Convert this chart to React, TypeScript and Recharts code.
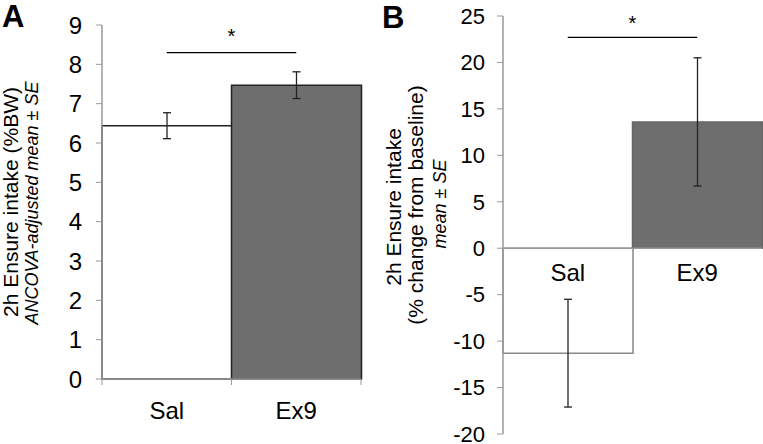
import React from 'react';
import {
  BarChart, Bar, Cell, XAxis, YAxis, ErrorBar, ReferenceLine, ReferenceDot,
} from 'recharts';

// Panel A: ANCOVA-adjusted intake (%BW)
const groups = ['Sal', 'Ex9'];
const intakeMeans = [6.44, 7.47];
const intakeSE = [0.33, 0.34];
const intakeTicks = [0, 1, 2, 3, 4, 5, 6, 7, 8, 9];

// Panel B: % change from baseline
const changeMeans = [-11.3, 13.6];
const changeSE = [5.8, 6.9];
const changeTicks = [-20, -15, -10, -5, 0, 5, 10, 15, 20, 25];

const FONT = '"Liberation Sans", Arial, sans-serif';
const GREY = '#9a9a9a';
const DARK_FILL = '#6e6e6e';

const dataA = groups.map((g, i) => ({ name: g, value: intakeMeans[i], se: intakeSE[i] }));
const dataB = groups.map((g, i) => ({ name: g, value: changeMeans[i], se: changeSE[i] }));

const tickStyleA = { fill: '#000', fontSize: 24, fontFamily: FONT };
const tickStyleB = { fill: '#000', fontSize: 22, fontFamily: FONT };

const X_TICK_SIZE = 6;
const X_TICK_MARGIN = 17;

// category label plus the small marks at the category boundaries (Excel style)
const CategoryTick = (props: any) => {
  const { x, y, payload } = props;
  const half = payload.offset || 0;
  const axisY = y - X_TICK_SIZE - X_TICK_MARGIN;
  return (
    <g>
      <line x1={x - half} x2={x - half} y1={axisY} y2={axisY + X_TICK_SIZE} stroke={GREY} />
      {payload.index === groups.length - 1 && (
        <line x1={x + half} x2={x + half} y1={axisY} y2={axisY + X_TICK_SIZE} stroke={GREY} />
      )}
      <text x={x} y={y} dy="0.71em" textAnchor="middle" {...tickStyleA}>{payload.value}</text>
    </g>
  );
};

const PanelA = () => (
  <BarChart
    width={380}
    height={444}
    data={dataA}
    margin={{ top: 25, right: 19, bottom: 25, left: 0 }}
    barCategoryGap={0}
    barGap={0}
  >
    <XAxis
      dataKey="name"
      axisLine={{ stroke: GREY, strokeWidth: 1.5 }}
      tickLine={false}
      tickSize={X_TICK_SIZE}
      tickMargin={X_TICK_MARGIN}
      tick={<CategoryTick />}
      interval={0}
      height={40}
    />
    <YAxis
      domain={[0, 9]}
      ticks={intakeTicks}
      interval={0}
      width={102}
      axisLine={{ stroke: GREY, strokeWidth: 1.5 }}
      tickLine={{ stroke: GREY }}
      tickSize={6}
      tickMargin={14}
      tick={tickStyleA}
    />
    <Bar dataKey="value" isAnimationActive={false} strokeWidth={1.5}>
      {dataA.map((d, i) => (
        <Cell key={d.name} fill={i === 0 ? '#ffffff' : DARK_FILL} stroke="#222" />
      ))}
      <ErrorBar dataKey="se" width={4} stroke="#222" strokeWidth={1.3} isAnimationActive={false} />
    </Bar>
    <ReferenceLine
      segment={[{ x: 'Sal', y: 8.3 }, { x: 'Ex9', y: 8.3 }]}
      stroke="#000"
      strokeWidth={1.2}
      label={{ value: '*', position: 'top', fill: '#000', fontSize: 20, fontFamily: FONT, offset: 10 }}
    />
  </BarChart>
);

const PanelB = () => (
  <BarChart
    width={383}
    height={444}
    data={dataB}
    margin={{ top: 16, right: 1, bottom: 10, left: 0 }}
    barCategoryGap={0}
    barGap={0}
  >
    <XAxis dataKey="name" hide height={0} />
    <YAxis
      domain={[-20, 25]}
      ticks={changeTicks}
      interval={0}
      width={123}
      axisLine={{ stroke: GREY, strokeWidth: 1.5 }}
      tickLine={{ stroke: GREY }}
      tickSize={6}
      tickMargin={12}
      tick={tickStyleB}
    />
    <Bar dataKey="value" isAnimationActive={false} strokeWidth={1.5}>
      {dataB.map((d, i) => (
        <Cell key={d.name} fill={i === 0 ? '#ffffff' : DARK_FILL} stroke={i === 0 ? '#888' : '#666'} />
      ))}
      <ErrorBar dataKey="se" width={4} stroke="#222" strokeWidth={1.3} isAnimationActive={false} />
    </Bar>
    <ReferenceLine y={0} stroke={GREY} strokeWidth={1.5} />
    {groups.map((g) => (
      <ReferenceDot
        key={g}
        x={g}
        y={0}
        r={0}
        fill="none"
        stroke="none"
        label={{ value: g, position: 'bottom', offset: 16, fill: '#000', fontSize: 24, fontFamily: FONT }}
      />
    ))}
    <ReferenceLine
      segment={[{ x: 'Sal', y: 22.7 }, { x: 'Ex9', y: 22.7 }]}
      stroke="#000"
      strokeWidth={1.2}
      label={{ value: '*', position: 'top', fill: '#000', fontSize: 20, fontFamily: FONT, offset: 7 }}
    />
  </BarChart>
);

export default function App() {
  return (
    <div style={{ position: 'absolute', left: 0, top: 0, width: 763, height: 444, background: '#fff', fontFamily: FONT }}>
      <div style={{ position: 'absolute', left: 0, top: 0 }}>
        <PanelA />
      </div>
      <div style={{ position: 'absolute', left: 380, top: 0 }}>
        <PanelB />
      </div>
      <svg width={763} height={444} style={{ position: 'absolute', left: 0, top: 0, pointerEvents: 'none' }}>
        <text x={2} y={27} fontSize={31} fontWeight="bold" fontFamily={FONT}>A</text>
        <text x={382} y={28} fontSize={31} fontWeight="bold" fontFamily={FONT}>B</text>
        <g fontFamily={FONT} fill="#000" textAnchor="middle" dominantBaseline="central">
          <text transform="rotate(-90)" x={-202} y={10} fontSize={21}>2h Ensure intake (%BW)</text>
          <text transform="rotate(-90)" x={-203} y={32} fontSize={18} fontStyle="italic">ANCOVA-adjusted mean ± SE</text>
          <text transform="rotate(-90)" x={-207} y={393} fontSize={21}>2h Ensure intake</text>
          <text transform="rotate(-90)" x={-205} y={415} fontSize={21}>(% change from baseline)</text>
          <text transform="rotate(-90)" x={-204} y={440} fontSize={18} fontStyle="italic">mean ± SE</text>
        </g>
      </svg>
    </div>
  );
}
